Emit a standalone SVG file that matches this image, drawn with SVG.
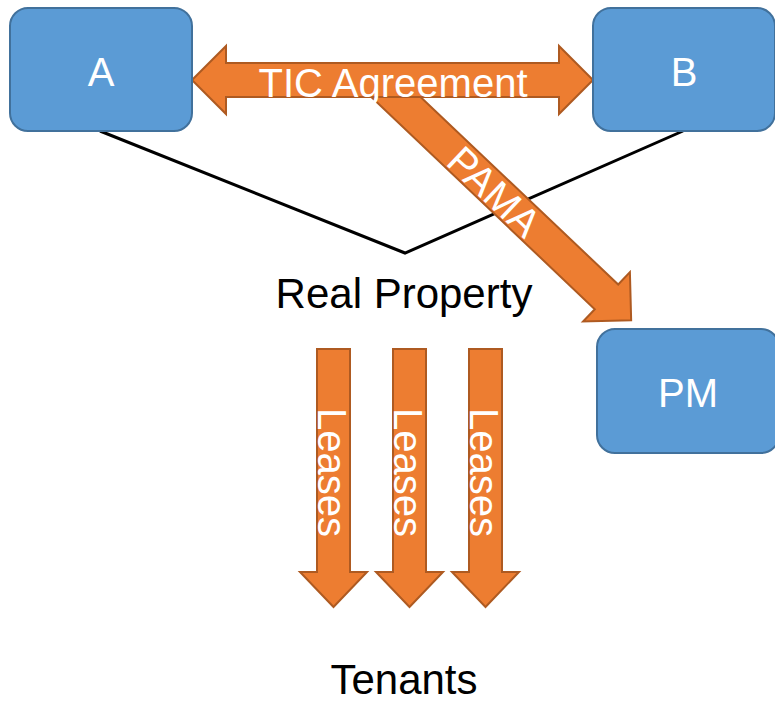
<svg xmlns="http://www.w3.org/2000/svg" width="775" height="703" viewBox="0 0 775 703">
  <style>
    .box { fill: #5B9BD5; stroke: #41719C; stroke-width: 2; }
    .arrow { fill: #ED7D31; stroke: #AE5A21; stroke-width: 2; stroke-linejoin: miter; }
    .link { fill: none; stroke: #000000; stroke-width: 3; }
    .lbl { font-family: "Liberation Sans", Arial, sans-serif; font-size: 40px; fill: #FFFFFF; }
    .dark { font-family: "Liberation Sans", Arial, sans-serif; font-size: 42px; fill: #000000; text-anchor: middle; }
    .mid { text-anchor: middle; }
  </style>
  <defs>
    <!-- downward block arrow: shaft 33 wide, head 67 wide and 35 long -->
    <polygon id="downArrow" points="-16.5,0 16.5,0 16.5,223 33.5,223 0,258 -33.5,223 -16.5,223" />
  </defs>

  <rect width="775" height="703" fill="#FFFFFF"/>

  <!-- connectors -->
  <g id="connectors">
    <polyline class="link" points="100,131 405,253 683,131" />

    <!-- PAMA arrow to the property manager -->
    <g id="pama" transform="translate(378,80) rotate(43.5)">
      <polygon class="arrow" points="0,-17 315,-17 315,-34 349,0 315,34 315,17 0,17" />
      <text class="lbl mid" x="161" y="15" font-size="41">PAMA</text>
    </g>

    <!-- TIC Agreement double arrow between A and B -->
    <g id="tic">
      <polygon class="arrow" points="192,80 226,46 226,63 559,63 559,46 593,80 559,114 559,97 226,97 226,114" />
      <text class="lbl mid" x="393" y="97" font-size="43">TIC Agreement</text>
    </g>

    <!-- leases down to tenants -->
    <g id="lease1">
      <use href="#downArrow" class="arrow" x="333.5" y="349" />
      <text class="lbl" font-size="39" transform="translate(318,408) rotate(90)">Leases</text>
    </g>
    <g id="lease2">
      <use href="#downArrow" class="arrow" x="409.5" y="349" />
      <text class="lbl" font-size="39" transform="translate(394,408) rotate(90)">Leases</text>
    </g>
    <g id="lease3">
      <use href="#downArrow" class="arrow" x="485.5" y="349" />
      <text class="lbl" font-size="39" transform="translate(470,408) rotate(90)">Leases</text>
    </g>
  </g>

  <g id="nodeA">
    <rect class="box" x="10" y="8" width="182" height="123" rx="18" ry="18" />
    <text class="lbl mid" x="101" y="86">A</text>
  </g>
  <g id="nodeB">
    <rect class="box" x="593" y="8" width="182" height="123" rx="18" ry="18" />
    <text class="lbl mid" x="684" y="86">B</text>
  </g>
  <g id="nodePM">
    <rect class="box" x="597" y="329" width="182" height="124" rx="18" ry="18" />
    <text class="lbl mid" x="688" y="407">PM</text>
  </g>
  <g id="property">
    <text class="dark" x="404" y="308">Real Property</text>
  </g>
  <g id="tenants">
    <text class="dark" x="404" y="694">Tenants</text>
  </g>
</svg>
